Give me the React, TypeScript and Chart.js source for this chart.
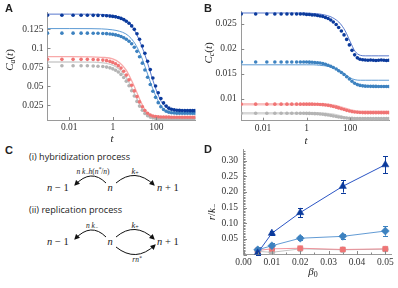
import React, { useEffect, useRef } from 'react';
import { Chart, registerables } from 'chart.js';
Chart.register(...registerables);

const SERIF = '"Liberation Serif", "DejaVu Serif", serif';
const SANS = '"Liberation Sans", Arial, sans-serif';
const HUMAN = '"Open Sans", "Noto Sans", sans-serif';
const AXIS = '#9a9a9a';
const TXT = '#333';

// ---------- Panel A / B: time grid and series ----------
const T_DOT = [0.001, 0.0046, 0.015, 0.035, 0.068, 0.126, 0.21, 0.35, 0.52, 0.74, 1.0, 1.35, 1.8, 2.4, 3.2, 4.2, 5.6, 7.4, 9.8, 13, 17, 23, 30, 40, 53, 70, 93, 123, 163, 216, 286, 380, 500, 665, 880, 1170, 1550, 2050, 2720, 3600, 4700, 6000];
const T_LINE = [0.001, 0.01, 0.1, 0.3, 1, 2, 4, 7, 12, 20, 35, 60, 100, 170, 300, 500, 1000, 2000, 6300];

const A_DB = [0.1435, 0.1435, 0.1435, 0.1435, 0.1435, 0.1434, 0.1433, 0.1431, 0.1428, 0.1424, 0.142, 0.1414, 0.1405, 0.1394, 0.1378, 0.1357, 0.133, 0.1295, 0.125, 0.1192, 0.112, 0.103, 0.0935, 0.083, 0.072, 0.061, 0.0505, 0.0415, 0.034, 0.0282, 0.024, 0.0213, 0.0198, 0.019, 0.0185, 0.0183, 0.0182, 0.0181, 0.0181, 0.018, 0.018, 0.018];
const A_SB = [0.12, 0.12, 0.12, 0.12, 0.12, 0.1199, 0.1198, 0.1196, 0.1193, 0.1189, 0.1184, 0.1177, 0.1168, 0.1156, 0.114, 0.112, 0.1093, 0.106, 0.1015, 0.096, 0.089, 0.0805, 0.0715, 0.062, 0.0525, 0.0435, 0.0355, 0.0285, 0.0232, 0.0195, 0.0172, 0.016, 0.0153, 0.0149, 0.0147, 0.0146, 0.0145, 0.0145, 0.0145, 0.0145, 0.0145, 0.0145];
const A_RD = [0.0855, 0.0855, 0.0855, 0.0855, 0.0855, 0.0853, 0.085, 0.0845, 0.0838, 0.0828, 0.0815, 0.0797, 0.0772, 0.074, 0.0698, 0.0648, 0.0585, 0.0515, 0.044, 0.0365, 0.0295, 0.0232, 0.0182, 0.0146, 0.0123, 0.011, 0.0103, 0.0099, 0.0097, 0.0096, 0.0095, 0.0095, 0.0094, 0.0094, 0.0094, 0.0094, 0.0094, 0.0094, 0.0094, 0.0094, 0.0094, 0.0094];
const A_GR = [0.077, 0.077, 0.077, 0.077, 0.077, 0.0768, 0.0765, 0.076, 0.0753, 0.0743, 0.073, 0.0712, 0.0688, 0.0657, 0.0616, 0.0568, 0.0508, 0.0442, 0.0372, 0.0302, 0.024, 0.0185, 0.0143, 0.0113, 0.0095, 0.0085, 0.008, 0.0077, 0.0075, 0.0074, 0.0073, 0.0073, 0.0072, 0.0072, 0.0072, 0.0072, 0.0072, 0.0072, 0.0072, 0.0072, 0.0072, 0.0072];

const A_DB_L = [0.145, 0.145, 0.1449, 0.1446, 0.1432, 0.1412, 0.1372, 0.1305, 0.1195, 0.105, 0.086, 0.064, 0.045, 0.03, 0.022, 0.0195, 0.0184, 0.0181, 0.018];
const A_SB_L = [0.126, 0.126, 0.1259, 0.1256, 0.1243, 0.1225, 0.119, 0.113, 0.1035, 0.09, 0.071, 0.0515, 0.036, 0.024, 0.0172, 0.015, 0.0142, 0.014, 0.014];
const A_RD_L = [0.089, 0.089, 0.0888, 0.0882, 0.0862, 0.0812, 0.072, 0.059, 0.044, 0.029, 0.0165, 0.0115, 0.0101, 0.0096, 0.0094, 0.0093, 0.0093, 0.0093, 0.0093];
const A_GR_L = [0.082, 0.082, 0.0818, 0.0812, 0.0778, 0.0725, 0.0625, 0.0495, 0.0355, 0.0225, 0.0135, 0.0092, 0.0079, 0.0075, 0.0073, 0.0072, 0.0072, 0.0072, 0.0072];

const B_DB = [0.027, 0.027, 0.027, 0.027, 0.027, 0.027, 0.027, 0.027, 0.027, 0.027, 0.0269, 0.0269, 0.0268, 0.0268, 0.0267, 0.0266, 0.0265, 0.0263, 0.0261, 0.0258, 0.0254, 0.0249, 0.0243, 0.0236, 0.0228, 0.0219, 0.0208, 0.0197, 0.0188, 0.0182, 0.0179, 0.0178, 0.01775, 0.0177, 0.01775, 0.0177, 0.01765, 0.0177, 0.01775, 0.0177, 0.01765, 0.0177];
const B_SB = [0.01735, 0.01735, 0.01735, 0.01735, 0.01735, 0.01735, 0.01735, 0.01735, 0.01735, 0.01735, 0.01735, 0.01733, 0.0173, 0.01727, 0.01722, 0.01715, 0.01705, 0.0169, 0.01672, 0.0165, 0.01625, 0.01595, 0.01562, 0.01525, 0.01485, 0.0144, 0.01395, 0.0135, 0.0131, 0.01283, 0.01267, 0.01258, 0.01252, 0.0125, 0.01248, 0.01247, 0.01246, 0.01245, 0.01244, 0.01245, 0.01243, 0.01244];
const B_RD = [0.0089, 0.0089, 0.0089, 0.0089, 0.0089, 0.0089, 0.0089, 0.0089, 0.0089, 0.0089, 0.0089, 0.0089, 0.0089, 0.00889, 0.00887, 0.00884, 0.0088, 0.00874, 0.00866, 0.00856, 0.00844, 0.0083, 0.00815, 0.00799, 0.00782, 0.00766, 0.00752, 0.00741, 0.00733, 0.00727, 0.00723, 0.00721, 0.0072, 0.0072, 0.0072, 0.0072, 0.0072, 0.0072, 0.0072, 0.0072, 0.0072, 0.0072];
const B_GR = [0.00707, 0.00707, 0.00707, 0.00707, 0.00707, 0.00707, 0.00707, 0.00707, 0.00707, 0.00707, 0.00706, 0.00705, 0.00703, 0.007, 0.00697, 0.00692, 0.00686, 0.00679, 0.00671, 0.00662, 0.00652, 0.00642, 0.00633, 0.00625, 0.00618, 0.00612, 0.00608, 0.00605, 0.00603, 0.00602, 0.00601, 0.006, 0.006, 0.006, 0.006, 0.006, 0.006, 0.006, 0.006, 0.006, 0.006, 0.006];

const B_DB_L = [0.0272, 0.0272, 0.0272, 0.0272, 0.0272, 0.0271, 0.027, 0.0268, 0.0265, 0.026, 0.0251, 0.0236, 0.0215, 0.0195, 0.0187, 0.0186, 0.0186, 0.0186, 0.0186];
const B_SB_L = [0.0168, 0.0168, 0.0168, 0.0168, 0.0168, 0.0168, 0.0167, 0.0166, 0.0164, 0.0161, 0.0156, 0.0149, 0.0142, 0.0138, 0.0137, 0.0137, 0.0137, 0.0137, 0.0137];
const B_RD_L = [0.0089, 0.0089, 0.0089, 0.0089, 0.0089, 0.0089, 0.0089, 0.00885, 0.00875, 0.0086, 0.0083, 0.008, 0.0077, 0.0075, 0.0074, 0.0074, 0.0074, 0.0074, 0.0074];
const B_GR_L = [0.0071, 0.0071, 0.0071, 0.0071, 0.0071, 0.0071, 0.00705, 0.007, 0.0069, 0.00675, 0.0065, 0.0062, 0.006, 0.0059, 0.00585, 0.00585, 0.00585, 0.00585, 0.00585];

const T_TICKS = [0.01, 1, 100];

// ---------- Panel D ----------
const BETA = [0.005, 0.01, 0.02, 0.035, 0.05];
const D_DB = [0.005, 0.068, 0.134, 0.218, 0.287];
const D_DB_ERR = [0.005, 0.007, 0.015, 0.02, 0.027];
const D_SB = [0.015, 0.028, 0.052, 0.058, 0.075];
const D_SB_ERR = [0.01, 0.009, 0.006, 0.008, 0.015];
const D_RD = [0.013, 0.018, 0.02, 0.016, 0.018];
const D_RD_ERR = [0.005, 0.004, 0.004, 0.003, 0.003];
const D_GR = [0.01, 0.007, 0.018, 0.015, 0.017];

// ---------- colours ----------
const C_DB = '#0b3a9c';
const C_SB = '#3d82c0';
const C_RD = '#f07474';
const C_GR = '#b4b4b4';
const L_DB = 'rgba(70,105,200,0.9)';
const L_SB = 'rgba(85,150,210,0.95)';
const L_RD = 'rgba(245,140,140,0.75)';
const L_GR = 'rgba(195,195,195,0.85)';

type Part = { t: string; it?: boolean; sub?: boolean; sup?: boolean; bold?: boolean; fam?: string };
type TextItem = { x: number; y: number; parts: Part[]; size: number; rot?: boolean; align?: 'left' | 'center' };

function drawRich(ctx: CanvasRenderingContext2D, item: TextItem) {
  const { size } = item;
  const fontOf = (p: Part) =>
    `${p.it ? 'italic ' : ''}${p.bold ? 'bold ' : ''}${p.sub || p.sup ? size * 0.72 : size}px ${p.fam || SERIF}`;
  ctx.save();
  ctx.translate(item.x, item.y);
  if (item.rot) ctx.rotate(-Math.PI / 2);
  let w = 0;
  const widths = item.parts.map((p) => {
    ctx.font = fontOf(p);
    const m = ctx.measureText(p.t).width;
    w += m;
    return m;
  });
  let x = item.align === 'left' ? 0 : -w / 2;
  ctx.textBaseline = 'middle';
  ctx.fillStyle = '#222';
  item.parts.forEach((p, i) => {
    ctx.font = fontOf(p);
    const dy = p.sub ? size * 0.28 : p.sup ? -size * 0.3 : 0;
    ctx.fillText(p.t, x, dy);
    x += widths[i];
  });
  ctx.restore();
}

function textPlugin(items: TextItem[]) {
  return {
    id: 'richText',
    afterDraw(chart: any) {
      items.forEach((it) => drawRich(chart.ctx, it));
    },
  };
}

function tickPlugin(cfg: { len: number; minorLen?: number; xMinor?: number[]; yMinor?: number[] }) {
  return {
    id: 'inTicks',
    afterDatasetsDraw(chart: any) {
      const { ctx, chartArea: a, scales } = chart;
      const xs = scales.x;
      const ys = scales.y;
      ctx.save();
      ctx.strokeStyle = '#888';
      ctx.lineWidth = 1;
      ctx.beginPath();
      const vx = (v: number, L: number) => {
        const p = Math.round(xs.getPixelForValue(v)) + 0.5;
        ctx.moveTo(p, a.bottom);
        ctx.lineTo(p, a.bottom - L);
      };
      const vy = (v: number, L: number) => {
        const p = Math.round(ys.getPixelForValue(v)) + 0.5;
        ctx.moveTo(a.left, p);
        ctx.lineTo(a.left + L, p);
      };
      xs.ticks.forEach((t: any) => vx(t.value, cfg.len));
      ys.ticks.forEach((t: any) => vy(t.value, cfg.len));
      (cfg.xMinor || []).forEach((v) => vx(v, cfg.minorLen || 2));
      (cfg.yMinor || []).forEach((v) => vy(v, cfg.minorLen || 2));
      ctx.stroke();
      ctx.restore();
    },
  };
}

function errPlugin(sets: { di: number; err: number[]; color: string }[]) {
  return {
    id: 'errBars',
    beforeDatasetsDraw(chart: any) {
      const { ctx, scales } = chart;
      const ys = scales.y;
      ctx.save();
      ctx.lineWidth = 1;
      sets.forEach((s) => {
        const meta = chart.getDatasetMeta(s.di);
        const ds = chart.data.datasets[s.di];
        ctx.strokeStyle = s.color;
        ctx.beginPath();
        meta.data.forEach((pt: any, i: number) => {
          const v = ds.data[i].y;
          const e = s.err[i];
          const y1 = ys.getPixelForValue(v + e);
          const y0 = ys.getPixelForValue(Math.max(0, v - e));
          const x = Math.round(pt.x) + 0.5;
          ctx.moveTo(x, y0);
          ctx.lineTo(x, y1);
          ctx.moveTo(x - 2.5, Math.round(y1) + 0.5);
          ctx.lineTo(x + 2.5, Math.round(y1) + 0.5);
          ctx.moveTo(x - 2.5, Math.round(y0) + 0.5);
          ctx.lineTo(x + 2.5, Math.round(y0) + 0.5);
        });
        ctx.stroke();
      });
      ctx.restore();
    },
  };
}

const fmt = (v: number) => String(parseFloat(Number(v).toFixed(4)));

function fixBox(opts: { w?: number; h?: number }) {
  return (s: any) => {
    if (opts.w !== undefined) s.width = opts.w;
    if (opts.h !== undefined) s.height = opts.h;
    s.paddingLeft = 0;
    s.paddingRight = 0;
    s.paddingTop = 0;
    s.paddingBottom = 0;
  };
}

function logX(h: number, max: number) {
  return {
    type: 'logarithmic',
    min: 0.001,
    max,
    afterBuildTicks: (s: any) => {
      s.ticks = T_TICKS.map((v) => ({ value: v }));
    },
    afterFit: fixBox({ h }),
    grid: { display: false, drawTicks: false },
    border: { display: true, color: AXIS, width: 1 },
    ticks: {
      autoSkip: false,
      maxRotation: 0,
      padding: 2,
      color: TXT,
      font: { family: SERIF, size: 9.5 },
      callback: (v: any) => String(v),
    },
  };
}

function linY(w: number, min: number, max: number, step: number, pad: number, size: number, cb: (v: number) => string) {
  return {
    type: 'linear',
    min,
    max,
    afterFit: fixBox({ w }),
    grid: { display: false, drawTicks: false },
    border: { display: true, color: AXIS, width: 1 },
    ticks: {
      stepSize: step,
      includeBounds: false,
      autoSkip: false,
      padding: pad,
      color: TXT,
      font: { family: SERIF, size },
      callback: (v: any) => cb(Number(v)),
    },
  };
}

const dots = (vals: number[], color: string) => ({
  data: T_DOT.map((t, i) => ({ x: t, y: vals[i] })),
  showLine: false,
  pointRadius: 1.8,
  pointBorderWidth: 0,
  pointBackgroundColor: color,
  backgroundColor: color,
  borderColor: color,
});

const curve = (vals: number[], color: string, w: number) => ({
  data: T_LINE.map((t, i) => ({ x: t, y: vals[i] })),
  showLine: true,
  pointRadius: 0,
  borderWidth: w,
  borderColor: color,
  backgroundColor: color,
  cubicInterpolationMode: 'monotone',
  fill: false,
});

const baseOpts = (padding: any) => ({
  responsive: false,
  animation: false,
  devicePixelRatio: 1,
  layout: { padding },
  plugins: { legend: { display: false }, tooltip: { enabled: false } },
});

function makeA(): any {
  return {
    type: 'scatter',
    data: {
      datasets: [
        dots(A_DB, C_DB),
        dots(A_SB, C_SB),
        dots(A_RD, C_RD),
        dots(A_GR, C_GR),
        curve(A_DB_L, L_DB, 1),
        curve(A_SB_L, L_SB, 1),
        curve(A_RD_L, L_RD, 1.3),
        curve(A_GR_L, L_GR, 1.3),
      ],
    },
    options: {
      ...baseOpts({ left: 0, right: 4.6, top: 12, bottom: 0 }),
      scales: {
        x: logX(25, 6300),
        y: linY(47.5, 0.0057, 0.1478, 0.025, 4, 9.5, fmt),
      },
    },
    plugins: [
      tickPlugin({ len: 3 }),
      textPlugin([
        { x: 5, y: 9, size: 11, align: 'left', parts: [{ t: 'A', bold: true, fam: SANS }] },
        { x: 10, y: 60, size: 11, rot: true, parts: [{ t: 'C', it: true }, { t: 'a', it: true, sub: true }, { t: '(' }, { t: 't', it: true }, { t: ')' }] },
        { x: 112, y: 139.5, size: 11, parts: [{ t: 't', it: true }] },
      ]),
    ],
  };
}

function makeB(): any {
  return {
    type: 'scatter',
    data: {
      datasets: [
        dots(B_DB, C_DB),
        dots(B_SB, C_SB),
        dots(B_RD, C_RD),
        dots(B_GR, C_GR),
        curve(B_DB_L, L_DB, 1),
        curve(B_SB_L, L_SB, 1),
        curve(B_RD_L, 'rgba(245,150,150,0.6)', 2.5),
        curve(B_GR_L, 'rgba(200,200,200,0.7)', 2.5),
      ],
    },
    options: {
      ...baseOpts({ left: 0, right: 8.8, top: 11, bottom: 0 }),
      scales: {
        x: logX(24.3, 6300),
        y: linY(41.25, 0.00558, 0.0276, 0.005, 4.5, 9.5, fmt),
      },
    },
    plugins: [
      tickPlugin({ len: 3 }),
      textPlugin([
        { x: 4, y: 9, size: 11, align: 'left', parts: [{ t: 'B', bold: true, fam: SANS }] },
        { x: 9, y: 53, size: 11, rot: true, parts: [{ t: 'C', it: true }, { t: 'c', it: true, sub: true }, { t: '(' }, { t: 't', it: true }, { t: ')' }] },
        { x: 106, y: 141.5, size: 11, parts: [{ t: 't', it: true }] },
      ]),
    ],
  };
}

const D_Y_MINOR: number[] = [];
for (let k = 1; k <= 66; k++) D_Y_MINOR.push(k * 0.005);
const D_X_MINOR: number[] = [];
for (let k = 1; k <= 10; k++) D_X_MINOR.push(k * 0.005);

function dSeries(vals: number[], color: string, line: string, style: string, r: number) {
  return {
    data: BETA.map((b, i) => ({ x: b, y: vals[i] })),
    showLine: true,
    borderColor: line,
    borderWidth: 1,
    backgroundColor: color,
    pointStyle: style,
    pointRadius: r,
    pointBackgroundColor: color,
    pointBorderColor: color,
    pointBorderWidth: 0.5,
    tension: 0,
  };
}

function makeD(): any {
  return {
    type: 'scatter',
    data: {
      datasets: [
        dSeries(D_DB, C_DB, '#2b55c4', 'triangle', 4.2),
        dSeries(D_SB, C_SB, 'rgba(90,150,210,0.95)', 'rectRot', 4),
        dSeries(D_RD, C_RD, 'rgba(240,130,140,0.85)', 'rect', 3.6),
        dSeries(D_GR, C_GR, '#c4c4c4', 'circle', 3),
      ],
    },
    options: {
      ...baseOpts({ left: 0, right: 7, top: 3.6, bottom: 0 }),
      scales: {
        x: {
          type: 'linear',
          min: 0,
          max: 0.052,
          afterFit: fixBox({ h: 33.5 }),
          grid: { display: false, drawTicks: false },
          border: { display: true, color: AXIS, width: 1 },
          ticks: {
            stepSize: 0.01,
            includeBounds: false,
            autoSkip: false,
            maxRotation: 0,
            padding: 2,
            color: TXT,
            font: { family: SERIF, size: 9.5 },
            callback: (v: any) => Number(v).toFixed(2),
          },
        },
        y: linY(43.5, 0, 0.335, 0.05, 5.5, 9.5, (v) => (v === 0 ? '' : v.toFixed(2))),
      },
    },
    plugins: [
      tickPlugin({ len: 3.5, minorLen: 2, xMinor: D_X_MINOR, yMinor: D_Y_MINOR }),
      errPlugin([
        { di: 0, err: D_DB_ERR, color: C_DB },
        { di: 1, err: D_SB_ERR, color: C_SB },
        { di: 2, err: D_RD_ERR, color: C_RD },
      ]),
      textPlugin([
        { x: 4, y: 4.5, size: 11, align: 'left', parts: [{ t: 'D', bold: true, fam: SANS }] },
        { x: 12, y: 67, size: 11, rot: true, parts: [{ t: 'r', it: true }, { t: '/' }, { t: 'k', it: true }, { t: '\u2212', sub: true }] },
        { x: 113, y: 127, size: 11, parts: [{ t: '\u03b2', it: true }, { t: '0', sub: true }] },
      ]),
    ],
  };
}

function ChartBox({ left, top, width, height, make }: { left: number; top: number; width: number; height: number; make: () => any }) {
  const ref = useRef<HTMLCanvasElement>(null);
  useEffect(() => {
    const c = new Chart(ref.current as HTMLCanvasElement, make());
    return () => c.destroy();
  }, []);
  return <canvas ref={ref} width={width} height={height} style={{ position: 'absolute', left, top, width, height }} />;
}

function PanelC() {
  const it = { fontFamily: SERIF, fontStyle: 'italic' as const, fill: '#222' };
  const arc = { fill: 'none', stroke: '#111', strokeWidth: 1, markerEnd: 'url(#ah)' };
  return (
    <svg width={398} height={288} style={{ position: 'absolute', left: 0, top: 0 }}>
      <defs>
        <marker id="ah" viewBox="0 0 10 10" refX="8" refY="5" markerWidth="5.5" markerHeight="5.5" orient="auto">
          <path d="M0,0 L10,5 L0,10 z" fill="#111" />
        </marker>
      </defs>
      <text x={5} y={153.5} fontFamily={SANS} fontWeight="bold" fontSize={11} fill="#222">C</text>
      <text x={29} y={160} fontFamily={HUMAN} fontSize={8.6} fill="#222" textLength={101} lengthAdjust="spacingAndGlyphs">(i) hybridization process</text>
      <text x={93} y={173.5} fontSize={7.5} textAnchor="middle" {...it}>
        n k<tspan fontSize={5.5} dy={1.5} fontStyle="normal">−</tspan>
        <tspan dy={-1.5}>h</tspan><tspan fontStyle="normal">(</tspan>n<tspan fontSize={5.5} dy={-2.5}>*</tspan>
        <tspan dy={2.5} fontStyle="normal">/</tspan>n<tspan fontStyle="normal">)</tspan>
      </text>
      <text x={135} y={173.5} fontSize={8.5} textAnchor="middle" {...it}>
        k<tspan fontSize={6} dy={1.8} fontStyle="normal">+</tspan>
      </text>
      <text x={47} y={190.5} fontSize={10.5} {...it}>n <tspan fontStyle="normal">− 1</tspan></text>
      <text x={110} y={190.5} fontSize={10.5} textAnchor="middle" {...it}>n</text>
      <text x={157} y={190.5} fontSize={10.5} {...it}>n <tspan fontStyle="normal">+ 1</tspan></text>
      <path d="M 106 183 Q 91 168 75 185" {...arc} />
      <path d="M 116 183 Q 135 167 154 185" {...arc} />

      <text x={29} y={213} fontFamily={HUMAN} fontSize={8.6} fill="#222" textLength={93} lengthAdjust="spacingAndGlyphs">(ii) replication process</text>
      <text x={92} y={227.5} fontSize={7.5} textAnchor="middle" {...it}>
        n k<tspan fontSize={5.5} dy={1.5} fontStyle="normal">−</tspan>
      </text>
      <text x={135} y={227.5} fontSize={8.5} textAnchor="middle" {...it}>
        k<tspan fontSize={6} dy={1.8} fontStyle="normal">+</tspan>
      </text>
      <text x={47} y={244.5} fontSize={10.5} {...it}>n <tspan fontStyle="normal">− 1</tspan></text>
      <text x={110} y={244.5} fontSize={10.5} textAnchor="middle" {...it}>n</text>
      <text x={157} y={244.5} fontSize={10.5} {...it}>n <tspan fontStyle="normal">+ 1</tspan></text>
      <path d="M 106 237 Q 91 222 75 239" {...arc} />
      <path d="M 116 237 Q 135 221 154 239" {...arc} />
      <path d="M 116 247 Q 136 263 155 245" {...arc} />
      <text x={137} y={262} fontSize={7.5} textAnchor="middle" {...it}>
        rn<tspan fontSize={5.5} dy={-2.5}>*</tspan>
      </text>
    </svg>
  );
}

export default function App() {
  return (
    <div style={{ position: 'absolute', left: 0, top: 0, width: 398, height: 288, background: '#fff', overflow: 'hidden' }}>
      <PanelC />
      <ChartBox left={0} top={0} width={200} height={145} make={makeA} />
      <ChartBox left={200} top={0} width={198} height={145} make={makeB} />
      <ChartBox left={200} top={145} width={198} height={143} make={makeD} />
    </div>
  );
}
